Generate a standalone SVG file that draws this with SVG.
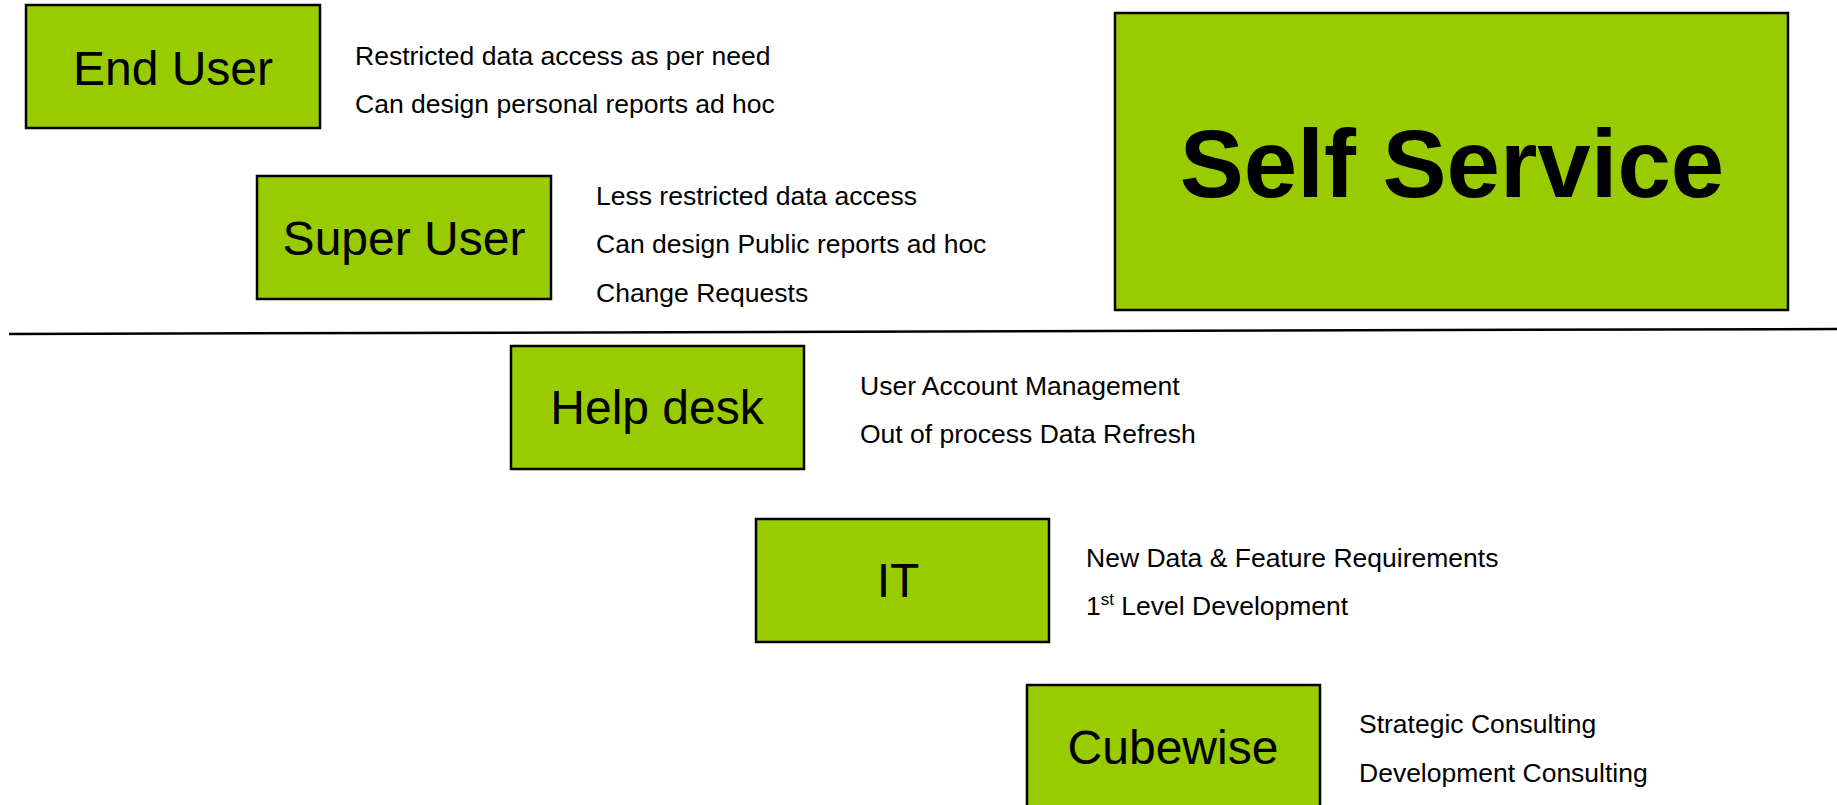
<svg xmlns="http://www.w3.org/2000/svg" width="1837" height="805" viewBox="0 0 1837 805">
<style>
.box{fill:#99CC00;stroke:#000;stroke-width:2.5}
.lbl{font-family:"Liberation Sans",Arial,sans-serif;font-size:48px;fill:#000;text-anchor:middle}
.big{font-family:"Liberation Sans",Arial,sans-serif;font-size:96px;font-weight:bold;fill:#000;text-anchor:middle}
.desc{font-family:"Liberation Sans",Arial,sans-serif;font-size:26.5px;fill:#000}
</style>
<rect width="1837" height="805" fill="#fff"/>
<g id="connectors">
<line x1="9" y1="334" x2="1837" y2="329" stroke="#000" stroke-width="2.5"/>
</g>
<g id="end-user">
<rect class="box" x="26" y="5" width="294" height="123"/>
<text class="lbl" x="173" y="85">End User</text>
<text class="desc" x="355" y="65">Restricted data access as per need</text>
<text class="desc" x="355" y="113">Can design personal reports ad hoc</text>
</g>
<g id="super-user">
<rect class="box" x="257" y="176" width="294" height="123"/>
<text class="lbl" x="404" y="255">Super User</text>
<text class="desc" x="596" y="205">Less restricted data access</text>
<text class="desc" x="596" y="253">Can design Public reports ad hoc</text>
<text class="desc" x="596" y="302">Change Requests</text>
</g>
<g id="self-service">
<rect class="box" x="1115" y="13" width="673" height="297"/>
<text class="big" x="1452" y="197">Self Service</text>
</g>
<g id="help-desk">
<rect class="box" x="511" y="346" width="293" height="123"/>
<text class="lbl" x="657" y="424">Help desk</text>
<text class="desc" x="860" y="395">User Account Management</text>
<text class="desc" x="860" y="443">Out of process Data Refresh</text>
</g>
<g id="it">
<rect class="box" x="756" y="519" width="293" height="123"/>
<text class="lbl" x="898" y="597">IT</text>
<text class="desc" x="1086" y="567">New Data &amp; Feature Requirements</text>
<text class="desc" x="1086" y="615">1<tspan font-size="17" dy="-10">st</tspan><tspan dy="10"> Level Development</tspan></text>
</g>
<g id="cubewise">
<rect class="box" x="1027" y="685" width="293" height="123"/>
<text class="lbl" x="1173" y="764">Cubewise</text>
<text class="desc" x="1359" y="733">Strategic Consulting</text>
<text class="desc" x="1359" y="782">Development Consulting</text>
</g>
</svg>
